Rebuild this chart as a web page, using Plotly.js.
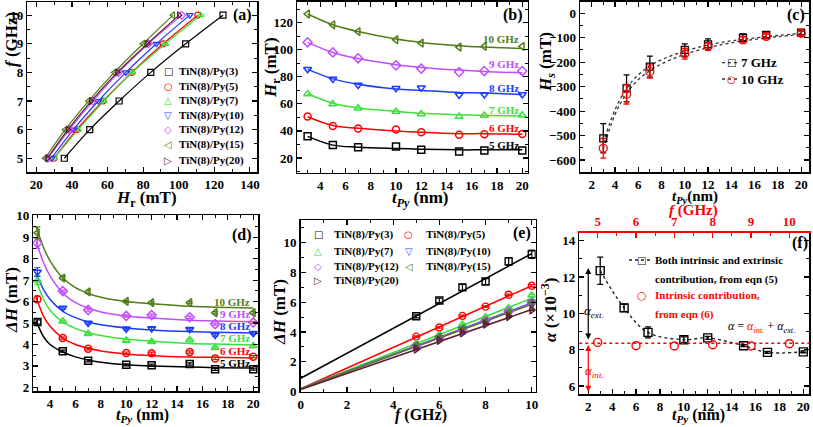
<!DOCTYPE html>
<html><head><meta charset="utf-8">
<script src="https://cdn.plot.ly/plotly-3.0.1.min.js"></script>
<style>html,body{margin:0;padding:0;background:#fff;}</style>
</head><body>
<div id="chart" style="width:813px;height:427px;"></div>
<script>
// ---------------- DATA ----------------
// Panel (a): frequency vs resonance field for each Py thickness
const freqA = [5, 6, 7, 8, 9, 10];
const hrA_Py3  = [35.7, 50.0, 66.5, 84.3, 103.9, 124.9];
const hrA_Py5  = [29.9, 42.7, 57.5, 73.6, 91.2, 110.7];
const hrA_Py7  = [30.0, 43.5, 58.0, 74.0, 92.5, 112.3];
const hrA_Py10 = [28.5, 40.8, 54.8, 70.3, 87.5, 106.2];
const hrA_Py12 = [26.5, 38.5, 51.8, 66.3, 83.0, 101.7];
const hrA_Py15 = [25.0, 36.2, 49.3, 63.8, 80.0, 96.8];
const hrA_Py20 = [26.2, 37.7, 50.8, 65.5, 82.4, 100.2];
const sampleNames = ['TiN(8)/Py(3)','TiN(8)/Py(5)','TiN(8)/Py(7)','TiN(8)/Py(10)','TiN(8)/Py(12)','TiN(8)/Py(15)','TiN(8)/Py(20)'];

// Panel (b): Hr vs tPy for each frequency
const tB = [3, 5, 7, 10, 12, 15, 17, 20];
const hrB_5  = [36.1, 29.5, 28.0, 28.5, 26.0, 24.8, 25.5, 25.5];
const hrB_6  = [50.6, 43.7, 41.8, 41.0, 39.1, 37.1, 37.6, 37.8];
const hrB_7  = [67.4, 60.0, 56.8, 54.3, 52.6, 50.6, 51.4, 51.6];
const hrB_8  = [85.6, 78.4, 74.0, 71.5, 72.0, 66.6, 66.9, 66.9];
const hrB_9  = [105.5, 98.1, 93.7, 88.5, 86.1, 83.6, 84.3, 84.3];
const hrB_10 = [126.5, 118.5, 113.5, 107.5, 105.0, 102.0, 102.5, 102.5];
const hrFitB_5  = [36.0, 29.5, 28.0, 27.0, 26.5, 26.0, 26.0, 26.0];
const hrFitB_6  = [50.5, 44.0, 42.0, 40.0, 39.0, 38.0, 38.0, 37.5];
const hrFitB_7  = [67.5, 60.5, 57.0, 54.5, 53.0, 52.0, 51.5, 51.0];
const hrFitB_8  = [85.5, 78.5, 74.5, 71.0, 70.0, 68.5, 68.0, 67.0];
const hrFitB_9  = [105.5, 98.0, 93.5, 89.0, 87.0, 85.0, 84.0, 83.0];
const hrFitB_10 = [126.5, 118.5, 113.5, 108.0, 105.5, 103.0, 102.0, 101.0];
const freqLabels = ['5 GHz','6 GHz','7 GHz','8 GHz','9 GHz','10 GHz'];

// Panel (c): Hs vs tPy
const tC = [3, 5, 7, 10, 12, 15, 17, 20];
const hs7  = [-511, -307, -218, -150, -127, -100, -89, -79];
const hs7Err  = [60, 55, 43, 25, 22, 15, 13, 10];
const hs10 = [-552, -331, -238, -166, -136, -109, -95, -82];
const hs10Err = [40, 40, 27, 22, 15, 12, 10, 8];
const tFitC = [3, 4, 5, 6, 7, 8, 10, 12, 14, 16, 18, 20];
const hs7Fit  = [-530, -395, -308, -252, -215, -190, -155, -130, -113, -101, -91, -83];
const hs10Fit = [-555, -415, -328, -272, -235, -207, -168, -141, -121, -107, -96, -87];

// Panel (d): linewidth vs tPy for each frequency
const tD = [3, 5, 7, 10, 12, 15, 17, 20];
const dH_5  = [5.05, 3.69, 3.24, 3.05, 3.03, 3.09, 2.84, 2.85];
const dH_6  = [6.11, 4.30, 3.80, 3.60, 3.59, 3.65, 3.35, 3.43];
const dH_7  = [6.99, 5.08, 4.50, 4.19, 4.13, 4.21, 3.85, 3.93];
const dH_8  = [7.38, 5.70, 5.00, 4.73, 4.75, 4.71, 4.44, 4.52];
const dH_9  = [8.73, 6.49, 5.61, 5.33, 5.37, 5.27, 4.95, 5.03];
const dH_10 = [9.21, 7.10, 6.45, 6.01, 5.95, 5.95, 5.48, 5.48];
const dHErr_5  = [0.10, 0.05, 0.05, 0.05, 0.05, 0.05, 0.05, 0.05];
const dHErr_6  = [0.15, 0.05, 0.05, 0.05, 0.05, 0.05, 0.05, 0.05];
const dHErr_7  = [0.20, 0.05, 0.05, 0.05, 0.05, 0.05, 0.05, 0.05];
const dHErr_8  = [0.20, 0.05, 0.05, 0.05, 0.05, 0.05, 0.05, 0.05];
const dHErr_9  = [0.25, 0.05, 0.05, 0.05, 0.05, 0.05, 0.05, 0.05];
const dHErr_10 = [0.28, 0.08, 0.08, 0.05, 0.05, 0.05, 0.05, 0.05];
const tFitD = [2.9, 3.5, 4, 5, 6, 7, 8, 10, 12, 15, 17, 20];
const dHFit_5  = [5.10, 4.35, 4.00, 3.65, 3.42, 3.27, 3.17, 3.05, 3.00, 2.95, 2.92, 2.90];
const dHFit_6  = [6.20, 5.30, 4.85, 4.30, 4.00, 3.82, 3.70, 3.56, 3.48, 3.42, 3.40, 3.37];
const dHFit_7  = [7.00, 6.10, 5.60, 5.05, 4.75, 4.55, 4.42, 4.25, 4.15, 4.05, 4.02, 3.98];
const dHFit_8  = [7.30, 6.55, 6.10, 5.55, 5.25, 5.05, 4.92, 4.77, 4.68, 4.60, 4.57, 4.54];
const dHFit_9  = [8.80, 7.80, 7.20, 6.40, 5.95, 5.70, 5.52, 5.33, 5.23, 5.13, 5.10, 5.06];
const dHFit_10 = [9.50, 8.50, 7.90, 7.10, 6.65, 6.38, 6.20, 6.00, 5.90, 5.78, 5.74, 5.70];

// Panel (e): linewidth vs frequency per sample (same measurements as (d))
const freqE = [5, 6, 7, 8, 9, 10];
const tE = [3, 5, 7, 10, 12, 15, 20];
const fFitE = [0, 10];
const dHFitE_Py3  = [0.90, 9.25];
const dHFitE_Py5  = [0.20, 7.10];
const dHFitE_Py7  = [0.20, 6.25];
const dHFitE_Py10 = [0.20, 5.95];
const dHFitE_Py12 = [0.20, 5.90];
const dHFitE_Py15 = [0.20, 5.85];
const dHFitE_Py20 = [0.15, 5.50];

// Panel (f): damping
const tF = [3, 5, 7, 10, 12, 15, 17, 20];
const alphaTot = [12.35, 10.30, 8.95, 8.55, 8.65, 8.22, 7.85, 7.88];
const alphaTotErr = [0.75, 0.20, 0.30, 0.15, 0.08, 0.05, 0.05, 0.05];
const fF = [5, 6, 7, 8, 9, 10];
const alphaInt = [8.40, 8.22, 8.20, 8.27, 8.20, 8.33];
const alphaIntMean = 8.35;

// ---------------- STYLE ----------------
const W = 813, H = 427;
const FONT = 'Liberation Serif, Times New Roman, serif';
const cK = '#000000', cR = '#ff0000', cG = '#3be03b', cB = '#1a3cff', cP = '#c24cff', cO = '#507d18', cW = '#5c1c34';
const sampleColors = [cK, cR, cG, cB, cP, cO, cW];
const sampleSymbols = ['square-open','circle-open','triangle-up-open','triangle-down-open','diamond-open','triangle-left-open','triangle-right-open'];
const sampleGlyphs = ['\u25A1','\u25CB','\u25B3','\u25BD','\u25C7','\u25C1','\u25B7'];
const freqColors = [cK, cR, cG, cB, cP, cO];
const freqSymbols = ['square-open','circle-open','triangle-up-open','triangle-down-open','diamond-open','triangle-left-open'];

function xd(a, b) { return [a / W, b / W]; }
function yd(top, bottom) { return [1 - bottom / H, 1 - top / H]; }

function axis(o) {
  const c = o.color || 'black';
  const a = {
    domain: o.domain, range: o.range, autorange: false, anchor: o.anchor,
    showline: true, linecolor: c, linewidth: 1.5,
    mirror: o.mirror === undefined ? 'ticks' : o.mirror,
    ticks: 'inside', ticklen: 5, tickwidth: 1.2, tickcolor: c,
    tickmode: 'linear', tick0: o.tick0, dtick: o.dtick,
    minor: {ticks: 'inside', ticklen: 3, tickwidth: 1, tickcolor: c, tickmode: 'linear', tick0: o.tick0, dtick: o.minor, showgrid: false},
    showgrid: false, zeroline: false,
    tickfont: {family: FONT, size: 13, color: c, weight: 'bold'},
    title: {text: ''}
  };
  if (o.side) a.side = o.side;
  if (o.overlaying) a.overlaying = o.overlaying;
  return a;
}

const traces = [];
function tr(obj) { obj.showlegend = false; obj.hoverinfo = 'skip'; traces.push(obj); }

// Panel (a)
const hrA = [hrA_Py3, hrA_Py5, hrA_Py7, hrA_Py10, hrA_Py12, hrA_Py15, hrA_Py20];
hrA.forEach((arr, i) => tr({x: arr, y: freqA, xaxis: 'x', yaxis: 'y', mode: 'lines+markers',
  line: {color: sampleColors[i], width: 1.2, shape: 'spline'},
  marker: {symbol: sampleSymbols[i], size: 6, color: sampleColors[i], line: {width: 1.2, color: sampleColors[i]}}}));

// Panel (b)
const hrB = [hrB_5, hrB_6, hrB_7, hrB_8, hrB_9, hrB_10];
const hrFitB = [hrFitB_5, hrFitB_6, hrFitB_7, hrFitB_8, hrFitB_9, hrFitB_10];
hrFitB.forEach((arr, i) => tr({x: tB, y: arr, xaxis: 'x2', yaxis: 'y2', mode: 'lines',
  line: {color: freqColors[i], width: 1.5, shape: 'spline', smoothing: 1}}));
hrB.forEach((arr, i) => tr({x: tB, y: arr, xaxis: 'x2', yaxis: 'y2', mode: 'markers',
  marker: {symbol: freqSymbols[i], size: 7, color: freqColors[i], line: {width: 1.5, color: freqColors[i]}}}));

// Panel (c)
tr({x: tFitC, y: hs7Fit, xaxis: 'x3', yaxis: 'y3', mode: 'lines', line: {color: '#333', width: 1.3, dash: 'dot', shape: 'spline'}});
tr({x: tFitC, y: hs10Fit, xaxis: 'x3', yaxis: 'y3', mode: 'lines', line: {color: '#333', width: 1.3, dash: 'dot', shape: 'spline'}});
tr({x: tC, y: hs7, xaxis: 'x3', yaxis: 'y3', mode: 'markers',
  error_y: {type: 'data', array: hs7Err, color: cK, thickness: 1.3, width: 3},
  marker: {symbol: 'square-open', size: 7, color: cK, line: {width: 1.3, color: cK}}});
tr({x: tC, y: hs10, xaxis: 'x3', yaxis: 'y3', mode: 'markers',
  error_y: {type: 'data', array: hs10Err, color: cR, thickness: 1.3, width: 3},
  marker: {symbol: 'circle-open', size: 8, color: cR, line: {width: 1.3, color: cR}}});

// Panel (d)
const dH = [dH_5, dH_6, dH_7, dH_8, dH_9, dH_10];
const dHErr = [dHErr_5, dHErr_6, dHErr_7, dHErr_8, dHErr_9, dHErr_10];
const dHFit = [dHFit_5, dHFit_6, dHFit_7, dHFit_8, dHFit_9, dHFit_10];
dHFit.forEach((arr, i) => tr({x: tFitD, y: arr, xaxis: 'x4', yaxis: 'y4', mode: 'lines',
  line: {color: freqColors[i], width: 1.5, shape: 'spline', smoothing: 1}}));
dH.forEach((arr, i) => tr({x: tD, y: arr, xaxis: 'x4', yaxis: 'y4', mode: 'markers',
  error_y: {type: 'data', array: dHErr[i], color: freqColors[i], thickness: 1.2, width: 3},
  marker: {symbol: freqSymbols[i], size: 7, color: freqColors[i], line: {width: 1.5, color: freqColors[i]}}}));

// Panel (e): each sample = one tPy column of the (d) data
const dHFitE = [dHFitE_Py3, dHFitE_Py5, dHFitE_Py7, dHFitE_Py10, dHFitE_Py12, dHFitE_Py15, dHFitE_Py20];
dHFitE.forEach((arr, i) => tr({x: fFitE, y: arr, xaxis: 'x5', yaxis: 'y5', mode: 'lines',
  line: {color: sampleColors[i], width: 1.5}}));
tE.forEach((t, i) => {
  const col = tD.indexOf(t);
  const ys = dH.map(a => a[col]);
  const es = dHErr.map(a => a[col]);
  tr({x: freqE, y: ys, xaxis: 'x5', yaxis: 'y5', mode: 'markers',
    error_y: {type: 'data', array: es, color: sampleColors[i], thickness: 1.2, width: 3},
    marker: {symbol: sampleSymbols[i], size: 7, color: sampleColors[i], line: {width: 1.4, color: sampleColors[i]}}});
});

// Panel (f)
tr({x: tF, y: alphaTot, xaxis: 'x6', yaxis: 'y6', mode: 'lines', line: {color: '#222', width: 1.4, dash: 'dot', shape: 'spline', smoothing: 1}});
tr({x: tF, y: alphaTot, xaxis: 'x6', yaxis: 'y6', mode: 'markers',
  error_y: {type: 'data', array: alphaTotErr, color: cK, thickness: 1.3, width: 3},
  marker: {symbol: 'square-open', size: 8, color: cK, line: {width: 1.4, color: cK}}});
tr({x: fF, y: alphaInt, xaxis: 'x7', yaxis: 'y6', mode: 'markers',
  marker: {symbol: 'circle-open', size: 8, color: cR, line: {width: 1.4, color: cR}}});

// ---------------- LAYOUT ----------------
const layout = {
  width: W, height: H, margin: {l: 0, r: 0, t: 0, b: 0},
  paper_bgcolor: '#fff', plot_bgcolor: '#fff', showlegend: false,
  font: {family: FONT, color: 'black'},
  xaxis:  axis({domain: xd(27.3, 257), range: [14.9, 144], anchor: 'y', tick0: 20, dtick: 20, minor: 10}),
  yaxis:  axis({domain: yd(2, 172), range: [4.52, 10.46], anchor: 'x', tick0: 5, dtick: 1, minor: 0.5}),
  xaxis2: axis({domain: xd(297, 527.7), range: [2.16, 20.43], anchor: 'y2', tick0: 4, dtick: 2, minor: 1}),
  yaxis2: axis({domain: yd(1.7, 172.7), range: [9.1, 135.6], anchor: 'x2', tick0: 20, dtick: 20, minor: 10}),
  xaxis3: axis({domain: xd(580, 809.3), range: [1.0, 20.7], anchor: 'y3', tick0: 2, dtick: 2, minor: 1}),
  yaxis3: axis({domain: yd(1.7, 172.3), range: [-650, 47], anchor: 'x3', tick0: 0, dtick: 100, minor: 50}),
  xaxis4: axis({domain: xd(33.3, 258.3), range: [2.68, 20.4], anchor: 'y4', tick0: 4, dtick: 2, minor: 1}),
  yaxis4: axis({domain: yd(215, 391), range: [1.83, 10.04], anchor: 'x4', tick0: 2, dtick: 1, minor: 0.5}),
  xaxis5: axis({domain: xd(300.7, 535.7), range: [0, 10.17], anchor: 'y5', tick0: 0, dtick: 2, minor: 1}),
  yaxis5: axis({domain: yd(220, 391.7), range: [0, 11.5], anchor: 'x5', tick0: 0, dtick: 2, minor: 1}),
  xaxis6: axis({domain: xd(579.3, 809.3), range: [1.25, 20.5], anchor: 'y6', tick0: 2, dtick: 2, minor: 1, mirror: false}),
  yaxis6: axis({domain: yd(232.7, 394), range: [5.56, 14.44], anchor: 'x6', tick0: 6, dtick: 2, minor: 1}),
  xaxis7: axis({domain: xd(579.3, 809.3), range: [4.52, 10.52], anchor: 'y6', overlaying: 'x6', side: 'top', mirror: false, color: cR, tick0: 5, dtick: 1, minor: 0.5}),
  annotations: [], shapes: []
};

function ann(px, py, text, o) {
  o = o || {};
  layout.annotations.push({xref: 'paper', yref: 'paper', x: px / W, y: 1 - py / H, text: text, showarrow: false,
    xanchor: o.xa || 'center', yanchor: 'middle', textangle: o.angle || 0,
    font: {family: o.family || FONT, size: o.size || 11, color: o.color || 'black', weight: o.weight || 'bold'}});
}

// axis titles
const tPy = '<i>t</i><sub><i>Py</i></sub> (nm)';
const TS = 17;
ann(146, 199, '<i>H</i><sub>r</sub> (mT)', {size: TS});
ann(11, 40, '<i>f</i> (GHz)', {size: TS, angle: -90});
ann(420, 199, tPy, {size: TS});
ann(272, 68, '<i>H</i><sub>r</sub> (mT)', {size: TS, angle: -90});
ann(695, 197, '<i>t</i><sub><i>Py</i></sub>(nm)', {size: 15});
ann(547, 62, '<i>H</i><sub><i>s</i></sub> (mT)', {size: TS, angle: -90});
ann(693, 210, '<i>f</i> (GHz)', {size: 15, color: cR});
ann(142, 415, tPy, {size: 16});
ann(11, 300, '<i>ΔH</i> (mT)', {size: TS, angle: -90});
ann(421, 415, '<i>f</i> (GHz)', {size: 16});
ann(279, 312, '<i>ΔH</i> (mT)', {size: TS, angle: -90});
ann(698, 415, tPy, {size: 16});
ann(549, 310, '<i>α</i> (×10<sup>−3</sup>)', {size: TS, angle: -90});

// panel letters
[['(a)', 242, 15], ['(b)', 513, 15], ['(c)', 796, 15], ['(d)', 242, 235], ['(e)', 522, 233], ['(f)', 800, 243]]
  .forEach(p => ann(p[1], p[2], p[0], {size: 16}));

// panel (a) legend
const legAy = [71.7, 86, 100.7, 115, 129.3, 145, 160];
sampleNames.forEach((n, i) => {
  ann(168, legAy[i], sampleGlyphs[i], {family: 'DejaVu Sans', size: 10, color: sampleColors[i], weight: 'normal'});
  ann(177, legAy[i], n, {xa: 'left', size: 11});
});

// panel (b) frequency labels
const labBy = [145, 128.3, 110, 88.3, 64.3, 39.3];
freqLabels.forEach((n, i) => ann(521, labBy[i], n, {xa: 'right', size: 11, color: freqColors[i]}));

// panel (d) frequency labels
const labDy = [363, 351, 338, 326, 314, 301.7];
freqLabels.forEach((n, i) => ann(252, labDy[i], n, {xa: 'right', size: 11, color: freqColors[i]}));

// panel (c) legend
[[62.7, '7 GHz', cK, '\u25A1'], [79, '10 GHz', cR, '\u25CB']].forEach(r => {
  layout.shapes.push({type: 'line', xref: 'paper', yref: 'paper', x0: 722 / W, x1: 737 / W, y0: 1 - r[0] / H, y1: 1 - r[0] / H,
    line: {color: '#333', width: 1.3, dash: 'dot'}});
  ann(731, r[0], r[3], {family: 'DejaVu Sans', size: 10, color: r[2], weight: 'normal'});
  ann(739, r[0], r[1], {xa: 'left', size: 13});
});

// panel (e) legend
const legE = [[318, 332, 235], [409, 424, 235], [318, 332, 251.5], [409, 424, 251.5], [318, 332, 266], [409, 424, 266], [318, 332, 280.5]];
sampleNames.forEach((n, i) => {
  const p = legE[i];
  ann(p[0], p[2], sampleGlyphs[i], {family: 'DejaVu Sans', size: 10, color: sampleColors[i], weight: 'normal'});
  ann(p[1], p[2], n, {xa: 'left', size: 11});
});

// panel (f) legend & notes
layout.shapes.push({type: 'line', xref: 'paper', yref: 'paper', x0: 629 / W, x1: 651 / W, y0: 1 - 260 / H, y1: 1 - 260 / H,
  line: {color: '#222', width: 1.3, dash: 'dot'}});
ann(641, 260, '\u25A1', {family: 'DejaVu Sans', size: 10, weight: 'normal'});
ann(653, 260, 'Both intrinsic and extrinsic', {xa: 'left', size: 11});
ann(653, 279, 'contribution, from eqn (5)', {xa: 'left', size: 11});
ann(641.5, 295, '\u25CB', {family: 'DejaVu Sans', size: 11, color: cR, weight: 'normal'});
ann(653, 295, 'Intrinsic contribution,', {xa: 'left', size: 11, color: cR});
ann(653, 314, 'from eqn (6)', {xa: 'left', size: 11, color: cR});
ann(726, 327, '<i>α</i> = <span style="color:#ff0000"><i>α</i><sub><i>int.</i></sub></span> + <i>α</i><sub><i>ext.</i></sub>', {xa: 'left', size: 12, weight: 'normal'});
ann(594, 311.7, '<i>α</i><sub><i>ext.</i></sub>', {size: 13, weight: 'normal'});
ann(594, 371.7, '<i>α</i><sub><i>int.</i></sub>', {size: 13, weight: 'normal', color: cR});

// intrinsic mean line
layout.shapes.push({type: 'line', xref: 'x6 domain', yref: 'y6', x0: 0, x1: 1, y0: alphaIntMean, y1: alphaIntMean,
  line: {color: cR, width: 1.5, dash: 'dot'}});

// arrows
layout.annotations.push({xref: 'x6', yref: 'y6', axref: 'x6', ayref: 'y6', x: 2.0, y: 12.5, ax: 2.0, ay: 8.48, text: '',
  showarrow: true, arrowside: 'end+start', arrowhead: 2, startarrowhead: 2, arrowsize: 1, arrowwidth: 1.2, arrowcolor: cK});
layout.annotations.push({xref: 'x6', yref: 'y6', axref: 'x6', ayref: 'y6', x: 2.0, y: 8.26, ax: 2.0, ay: 5.6, text: '',
  showarrow: true, arrowside: 'end+start', arrowhead: 2, startarrowhead: 2, arrowsize: 1, arrowwidth: 1.2, arrowcolor: cR});

Plotly.newPlot('chart', traces, layout, {staticPlot: true, displayModeBar: false});
</script>
</body></html>
